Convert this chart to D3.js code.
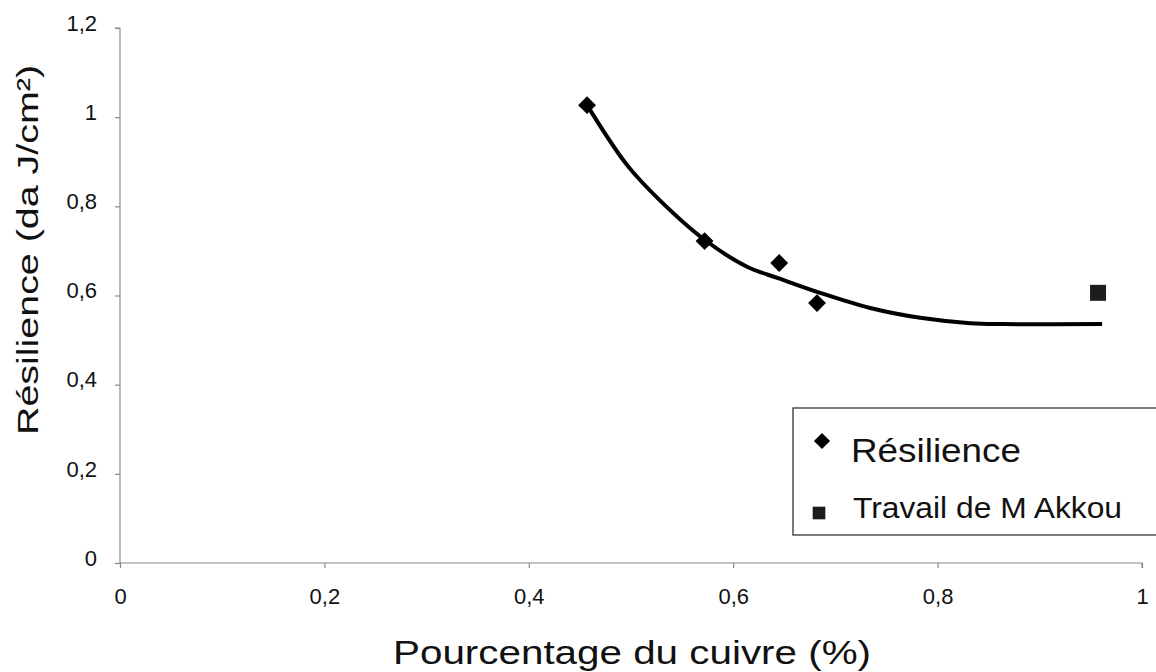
<!DOCTYPE html>
<html>
<head>
<meta charset="utf-8">
<script src="https://cdn.jsdelivr.net/npm/d3@7"></script>
<style>
  html, body { margin: 0; padding: 0; background: #fff; }
  svg { display: block; font-family: "Liberation Sans", Arial, sans-serif; }
</style>
</head>
<body>
<svg id="chart" width="1156" height="672"></svg>
<script>
// ---- data ----
const resilienceX = [0.457, 0.572, 0.645, 0.682];
const resilienceY = [1.027, 0.722, 0.673, 0.583];
const akkouX = [0.957];
const akkouY = [0.606];
const trendX = [0.457, 0.496, 0.528, 0.572, 0.614, 0.644, 0.685, 0.734, 0.783, 0.832, 0.864, 0.961];
const trendY = [1.027, 0.893, 0.814, 0.725, 0.664, 0.639, 0.606, 0.572, 0.550, 0.538, 0.536, 0.536];
const xTicks = [0, 0.2, 0.4, 0.6, 0.8, 1];
const yTicks = [0, 0.2, 0.4, 0.6, 0.8, 1, 1.2];
const xTickLabels = ["0", "0,2", "0,4", "0,6", "0,8", "1"];
const yTickLabels = ["0", "0,2", "0,4", "0,6", "0,8", "1", "1,2"];
const seriesNames = ["Résilience", "Travail de M Akkou"];
const xTitle = "Pourcentage du cuivre (%)";
const yTitle = "Résilience (da J/cm²)";

// ---- layout ----
const svg = d3.select("#chart");
const x = d3.scaleLinear().domain([0, 1]).range([120, 1142]);
const y = d3.scaleLinear().domain([0, 1.2]).range([563, 28]);

// axes
const xAxis = d3.axisBottom(x).tickValues(xTicks).tickSize(5).tickPadding(20)
  .tickFormat((d, i) => xTickLabels[i]);
const yAxis = d3.axisLeft(y).tickValues(yTicks).tickSize(5).tickPadding(18)
  .tickFormat((d, i) => yTickLabels[i]);

const gx = svg.append("g").attr("transform", `translate(0,${y(0)})`).call(xAxis);
const gy = svg.append("g").attr("transform", `translate(${x(0)},0)`).call(yAxis);
[gx, gy].forEach(g => {
  g.attr("font-size", 22).attr("font-family", "Liberation Sans, Arial, sans-serif");
  g.select(".domain").attr("stroke", "#8a8a8a").attr("stroke-width", 1.2);
  g.selectAll(".tick line").attr("stroke", "#8a8a8a").attr("stroke-width", 1.2);
  g.selectAll(".tick text").attr("fill", "#111").style("font-size", "22px");
});
gy.selectAll(".tick text").attr("dy", "0.1em");
gx.select(".domain").attr("d", `M${x(0)},0H${x(1)}V5`);
gy.select(".domain").attr("d", `M-5,${y(1.2)}H0V${y(0)}`);

// titles
svg.append("text").attr("x", 632).attr("y", 664).attr("text-anchor", "middle")
  .attr("font-size", 33).attr("fill", "#111")
  .attr("textLength", 478).attr("lengthAdjust", "spacingAndGlyphs")
  .text(xTitle);
svg.append("text").attr("transform", "translate(38,250) rotate(-90)")
  .attr("text-anchor", "middle").attr("font-size", 30).attr("fill", "#111")
  .attr("textLength", 370).attr("lengthAdjust", "spacingAndGlyphs")
  .text(yTitle);

// trend line
const line = d3.line().x(d => x(d[0])).y(d => y(d[1])).curve(d3.curveCatmullRom.alpha(0.5));
svg.append("path").datum(trendX.map((v, i) => [v, trendY[i]]))
  .attr("d", line).attr("fill", "none").attr("stroke", "#000").attr("stroke-width", 4);

// diamonds
const diamond = d3.symbol().type(d3.symbolSquare).size(160);
svg.append("g").selectAll("path").data(resilienceX.map((v, i) => [v, resilienceY[i]]))
  .join("path").attr("d", diamond)
  .attr("transform", d => `translate(${x(d[0])},${y(d[1])}) rotate(45)`)
  .attr("fill", "#000");

// squares
const square = d3.symbol().type(d3.symbolSquare).size(256);
svg.append("g").selectAll("path").data(akkouX.map((v, i) => [v, akkouY[i]]))
  .join("path").attr("d", square)
  .attr("transform", d => `translate(${x(d[0])},${y(d[1])})`)
  .attr("fill", "#1c1c1c");

// legend
const lg = svg.append("g");
lg.append("rect").attr("x", 793).attr("y", 408).attr("width", 380).attr("height", 127)
  .attr("fill", "#fff").attr("stroke", "#333").attr("stroke-width", 1.3);
lg.append("path").attr("d", d3.symbol().type(d3.symbolSquare).size(130))
  .attr("transform", "translate(822,441) rotate(45)").attr("fill", "#000");
lg.append("path").attr("d", d3.symbol().type(d3.symbolSquare).size(160))
  .attr("transform", "translate(819,513)").attr("fill", "#1c1c1c");
lg.append("text").attr("x", 851).attr("y", 462).attr("font-size", 34).attr("fill", "#111")
  .attr("textLength", 170).attr("lengthAdjust", "spacingAndGlyphs").text(seriesNames[0]);
lg.append("text").attr("x", 853).attr("y", 518).attr("font-size", 30).attr("fill", "#111")
  .attr("textLength", 269).attr("lengthAdjust", "spacingAndGlyphs").text(seriesNames[1]);
</script>
</body>
</html>
